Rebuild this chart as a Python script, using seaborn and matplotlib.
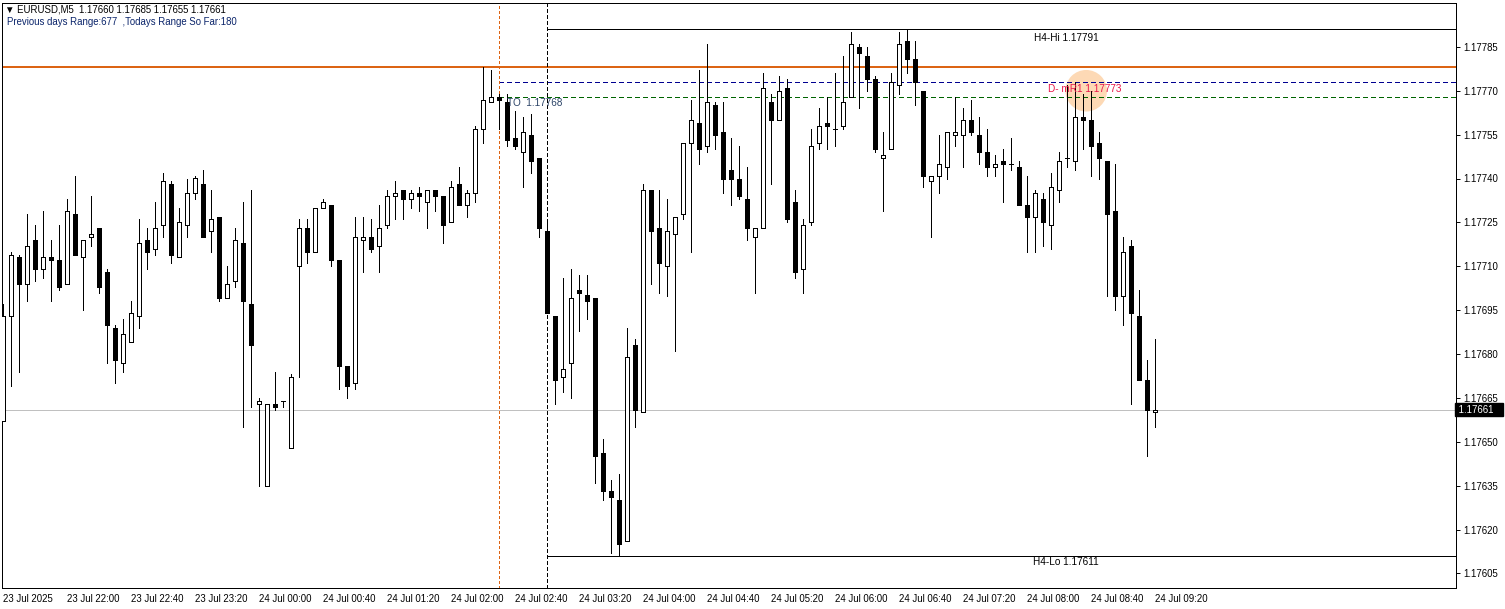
import numpy as np
import pandas as pd
import matplotlib
matplotlib.use("Agg")
import matplotlib.pyplot as plt
import seaborn as sns
from matplotlib.patches import Ellipse
from matplotlib.transforms import blended_transform_factory

# ---------------- data ----------------
OPEN = [1.17657, 1.17693, 1.17713, 1.17704, 1.17719, 1.17709, 1.17713, 1.17712, 1.17704, 1.17728,
        1.17713, 1.17720, 1.17723, 1.17708, 1.17689, 1.17677, 1.17684, 1.17693, 1.17719, 1.17716,
        1.17724, 1.17738, 1.17713, 1.17724, 1.17735, 1.17738, 1.17722, 1.17727, 1.17699, 1.17705,
        1.17718, 1.17697, 1.17663, 1.17635, 1.17663, 1.17664, 1.17648, 1.17710, 1.17723, 1.17715,
        1.17730, 1.17731, 1.17712, 1.17676, 1.17670, 1.17719, 1.17720, 1.17717, 1.17724, 1.17734,
        1.17736, 1.17733, 1.17735, 1.17732, 1.17736, 1.17734, 1.17725, 1.17738, 1.17731, 1.17735,
        1.17757, 1.17766, 1.17768, 1.17766, 1.17754, 1.17749, 1.17755, 1.17747, 1.17722, 1.17693,
        1.17672, 1.17677, 1.17702, 1.17700, 1.17699, 1.17646, 1.17633, 1.17630, 1.17616, 1.17683,
        1.17660, 1.17736, 1.17723, 1.17710, 1.17721, 1.17728, 1.17752, 1.17759, 1.17751, 1.17765,
        1.17756, 1.17743, 1.17740, 1.17733, 1.17720, 1.17723, 1.17766, 1.17760, 1.17771, 1.17732,
        1.17709, 1.17725, 1.17752, 1.17759, 1.17757, 1.17758, 1.17768, 1.17785, 1.17782, 1.17774,
        1.17747, 1.17750, 1.17772, 1.17787, 1.17781, 1.17770, 1.17739, 1.17741, 1.17744, 1.17755,
        1.17755, 1.17760, 1.17755, 1.17749, 1.17744, 1.17746, 1.17745, 1.17744, 1.17731, 1.17727,
        1.17733, 1.17724, 1.17736, 1.17747, 1.17746, 1.17761, 1.17760, 1.17752, 1.17746, 1.17729,
        1.17700, 1.17717, 1.17693, 1.17671, 1.17660]
HIGH = [1.17697, 1.17715, 1.17714, 1.17728, 1.17724, 1.17729, 1.17719, 1.17724, 1.17733, 1.17741,
        1.17719, 1.17734, 1.17723, 1.17709, 1.17690, 1.17692, 1.17698, 1.17726, 1.17723, 1.17732,
        1.17742, 1.17739, 1.17730, 1.17740, 1.17741, 1.17743, 1.17736, 1.17727, 1.17710, 1.17723,
        1.17732, 1.17736, 1.17665, 1.17663, 1.17674, 1.17664, 1.17673, 1.17726, 1.17726, 1.17730,
        1.17733, 1.17731, 1.17712, 1.17676, 1.17727, 1.17727, 1.17726, 1.17731, 1.17736, 1.17739,
        1.17736, 1.17736, 1.17737, 1.17736, 1.17736, 1.17734, 1.17739, 1.17744, 1.17736, 1.17758,
        1.17778, 1.17777, 1.17769, 1.17769, 1.17763, 1.17761, 1.17762, 1.17747, 1.17726, 1.17693,
        1.17706, 1.17709, 1.17707, 1.17707, 1.17699, 1.17651, 1.17637, 1.17639, 1.17689, 1.17685,
        1.17738, 1.17736, 1.17736, 1.17733, 1.17727, 1.17752, 1.17767, 1.17777, 1.17786, 1.17766,
        1.17766, 1.17754, 1.17751, 1.17744, 1.17723, 1.17776, 1.17769, 1.17775, 1.17774, 1.17736,
        1.17726, 1.17757, 1.17764, 1.17768, 1.17776, 1.17782, 1.17790, 1.17786, 1.17785, 1.17775,
        1.17756, 1.17776, 1.17790, 1.17791, 1.17787, 1.17770, 1.17741, 1.17755, 1.17756, 1.17768,
        1.17764, 1.17767, 1.17761, 1.17757, 1.17748, 1.17750, 1.17754, 1.17746, 1.17741, 1.17736,
        1.17735, 1.17742, 1.17749, 1.17772, 1.17773, 1.17769, 1.17770, 1.17756, 1.17746, 1.17745,
        1.17720, 1.17719, 1.17702, 1.17678, 1.17685]
LOW = [1.17657, 1.17669, 1.17674, 1.17698, 1.17705, 1.17706, 1.17698, 1.17702, 1.17704, 1.17714,
       1.17695, 1.17717, 1.17701, 1.17677, 1.17670, 1.17674, 1.17684, 1.17689, 1.17709, 1.17714,
       1.17720, 1.17711, 1.17713, 1.17720, 1.17733, 1.17720, 1.17715, 1.17698, 1.17699, 1.17703,
       1.17655, 1.17662, 1.17635, 1.17635, 1.17661, 1.17662, 1.17648, 1.17672, 1.17711, 1.17715,
       1.17730, 1.17710, 1.17668, 1.17665, 1.17668, 1.17708, 1.17715, 1.17708, 1.17723, 1.17726,
       1.17726, 1.17730, 1.17729, 1.17723, 1.17729, 1.17718, 1.17725, 1.17731, 1.17727, 1.17732,
       1.17752, 1.17766, 1.17757, 1.17751, 1.17750, 1.17737, 1.17742, 1.17720, 1.17694, 1.17663,
       1.17667, 1.17665, 1.17688, 1.17692, 1.17636, 1.17630, 1.17612, 1.17611, 1.17616, 1.17655,
       1.17660, 1.17704, 1.17701, 1.17700, 1.17681, 1.17726, 1.17715, 1.17745, 1.17749, 1.17750,
       1.17735, 1.17731, 1.17733, 1.17719, 1.17701, 1.17723, 1.17738, 1.17760, 1.17725, 1.17706,
       1.17701, 1.17724, 1.17750, 1.17750, 1.17751, 1.17757, 1.17768, 1.17764, 1.17770, 1.17749,
       1.17729, 1.17750, 1.17769, 1.17776, 1.17765, 1.17737, 1.17720, 1.17735, 1.17740, 1.17751,
       1.17744, 1.17755, 1.17745, 1.17741, 1.17741, 1.17732, 1.17743, 1.17731, 1.17715, 1.17715,
       1.17717, 1.17716, 1.17732, 1.17744, 1.17743, 1.17750, 1.17741, 1.17740, 1.17700, 1.17695,
       1.17690, 1.17663, 1.17671, 1.17645, 1.17655]
CLOSE = [1.17693, 1.17714, 1.17704, 1.17717, 1.17709, 1.17713, 1.17712, 1.17703, 1.17729, 1.17714,
         1.17719, 1.17721, 1.17703, 1.17690, 1.17678, 1.17687, 1.17694, 1.17718, 1.17715, 1.17723,
         1.17739, 1.17714, 1.17725, 1.17735, 1.17740, 1.17720, 1.17726, 1.17699, 1.17704, 1.17719,
         1.17698, 1.17683, 1.17664, 1.17663, 1.17662, 1.17664, 1.17672, 1.17723, 1.17715, 1.17730,
         1.17732, 1.17712, 1.17676, 1.17669, 1.17720, 1.17720, 1.17716, 1.17723, 1.17734, 1.17735,
         1.17733, 1.17735, 1.17734, 1.17736, 1.17734, 1.17724, 1.17737, 1.17731, 1.17735, 1.17757,
         1.17767, 1.17768, 1.17767, 1.17753, 1.17751, 1.17756, 1.17746, 1.17723, 1.17694, 1.17671,
         1.17675, 1.17699, 1.17701, 1.17698, 1.17645, 1.17633, 1.17631, 1.17615, 1.17679, 1.17661,
         1.17736, 1.17722, 1.17711, 1.17722, 1.17727, 1.17752, 1.17760, 1.17750, 1.17766, 1.17755,
         1.17740, 1.17740, 1.17734, 1.17723, 1.17723, 1.17771, 1.17760, 1.17770, 1.17726, 1.17708,
         1.17724, 1.17751, 1.17758, 1.17758, 1.17757, 1.17766, 1.17786, 1.17783, 1.17774, 1.17750,
         1.17748, 1.17773, 1.17786, 1.17781, 1.17773, 1.17741, 1.17741, 1.17745, 1.17756, 1.17756,
         1.17760, 1.17756, 1.17749, 1.17744, 1.17745, 1.17745, 1.17745, 1.17731, 1.17727, 1.17735,
         1.17725, 1.17737, 1.17746, 1.17747, 1.17761, 1.17760, 1.17751, 1.17747, 1.17728, 1.17700,
         1.17715, 1.17694, 1.17671, 1.17661, 1.17661]

XTICK_LABELS = ["23 Jul 2025", "23 Jul 22:00", "23 Jul 22:40", "23 Jul 23:20", "24 Jul 00:00",
                "24 Jul 00:40", "24 Jul 01:20", "24 Jul 02:00", "24 Jul 02:40", "24 Jul 03:20",
                "24 Jul 04:00", "24 Jul 04:40", "24 Jul 05:20", "24 Jul 06:00", "24 Jul 06:40",
                "24 Jul 07:20", "24 Jul 08:00", "24 Jul 08:40", "24 Jul 09:20"]
YTICKS = [1.17605, 1.17620, 1.17635, 1.17650, 1.17665, 1.17680, 1.17695,
          1.17710, 1.17725, 1.17740, 1.17755, 1.17770, 1.17785]

ORANGE_LEVEL = 1.17778
D_MR1 = 1.17773
TODAY_OPEN = 1.17768
H4_HI = 1.17791
H4_LO = 1.17611
BID = 1.17661

HEADER1 = "\u25bc EURUSD,M5  1.17660 1.17685 1.17655 1.17661"
HEADER2 = "Previous days Range:677  ,Todays Range So Far:180"

# ---------------- style ----------------
sns.set_theme(style="white")
plt.rcParams["font.family"] = ["Liberation Sans", "DejaVu Sans"]
plt.rcParams["lines.scale_dashes"] = False

times = pd.date_range("2025-07-23 21:20", periods=len(OPEN), freq="5min")
df = pd.DataFrame({"time": times, "open": OPEN, "high": HIGH, "low": LOW, "close": CLOSE})
df["idx"] = np.arange(len(df))
df["bull"] = df["close"] >= df["open"]

W, H = 1505, 609
fig = plt.figure(figsize=(W / 100, H / 100), dpi=100)
fig.patch.set_facecolor("white")
ax = fig.add_axes([2 / W, (H - 588) / H, (1456 - 2) / W, (588 - 3) / H])
ax.set_facecolor("white")

ax.set_xlim(-0.125, 181.625)
ax.set_ylim(1.17600, 1.17800)

lw = 0.5
lw_lvl = 0.72
aa = False
ORANGE = "#dc6414"
# levels
ax.axhline(BID, color="#c0c0c0", lw=lw_lvl, zorder=1, antialiased=aa)
ax.axhline(ORANGE_LEVEL, color=ORANGE, lw=1.44, zorder=2, antialiased=aa)
xr = ax.get_xlim()[1]
day_start = df.index[df["time"] == pd.Timestamp("2025-07-24 02:30")][0]
h4_start = df.index[df["time"] == pd.Timestamp("2025-07-24 03:00")][0]
ax.hlines(D_MR1, day_start, xr, colors="#000090", linestyles=(0, (3, 2.2)), lw=lw_lvl, zorder=2, antialiased=aa)
ax.hlines(TODAY_OPEN, day_start, xr, colors="#006400", linestyles=(0, (3, 2.2)), lw=lw_lvl, zorder=2, antialiased=aa)
ax.hlines([H4_HI, H4_LO], h4_start, xr, colors="black", lw=lw, zorder=2, antialiased=aa)
ax.axvline(day_start, color=ORANGE, ls=(0, (1.5, 1.5)), lw=lw_lvl, zorder=2, antialiased=aa)
ax.axvline(h4_start, color="black", ls=(0, (2.2, 1.5)), lw=lw, zorder=2, antialiased=aa)

# highlight circle
ax.add_patch(Ellipse((135.4, 1.17770), width=5.2, height=0.000142,
                     facecolor="#fdd9b5", edgecolor="none", zorder=1.5))

# candles
ax.vlines(df["idx"], df["low"], df["high"], colors="black", lw=lw, zorder=3, antialiased=aa)
bottoms = np.minimum(df["open"], df["close"])
heights = np.abs(df["close"] - df["open"])
ax.bar(df["idx"], heights, bottom=bottoms, width=0.6,
       color=np.where(df["bull"], "white", "black"), edgecolor="black", linewidth=lw,
       zorder=4, antialiased=aa)

# texts
fs = 6.9
ax.text(132.9, 1.17788, f"H4-Hi {H4_HI:.5f}", ha="center", va="center", fontsize=7.2, color="black", zorder=5)
ax.text(132.9, 1.17609, f"H4-Lo {H4_LO:.5f}", ha="center", va="center", fontsize=7.2, color="black", zorder=5)
ax.text(63.0, 1.177657, f"TO  {TODAY_OPEN:.5f}", ha="left", va="center", fontsize=7.2, color="#2c4468", zorder=5)
ax.text(135.25, 1.177706, f"D- mR1 {D_MR1:.5f}", ha="center", va="center", fontsize=7.2, color="#e8174a", zorder=5)

fig.text(5 / W, 1 - 10 / H, HEADER1, ha="left", va="center", fontsize=fs, color="black")
fig.text(7 / W, 1 - 22 / H, HEADER2, ha="left", va="center", fontsize=fs, color="#0a246a")

# axes
for s in ax.spines.values():
    s.set_color("black")
    s.set_linewidth(lw)
    s.set_visible(True)
    s.set_antialiased(aa)
ax.yaxis.tick_right()
ax.set_yticks(YTICKS)
ax.set_yticklabels([f"{v:.5f}" for v in YTICKS])
ax.set_xticks(df["idx"][::8])
ax.set_xticklabels(XTICK_LABELS, ha="left")
ax.tick_params(axis="both", which="major", direction="out", length=3, width=0.7,
               color="black", labelsize=fs, labelcolor="black")
ax.tick_params(axis="y", pad=2)
ax.tick_params(axis="x", pad=1)
for lab in ax.get_xticklabels():
    lab.set_horizontalalignment("left")

trans = blended_transform_factory(ax.transAxes, ax.transData)
ax.text(1.0, BID, f" {BID:.5f}   ", transform=trans, ha="left", va="center", fontsize=fs,
        color="white", zorder=6, clip_on=False,
        bbox=dict(boxstyle="square,pad=0.15", facecolor="black", edgecolor="black"))

ax.grid(False)
fig.savefig("out.png", dpi=100, facecolor="white")
